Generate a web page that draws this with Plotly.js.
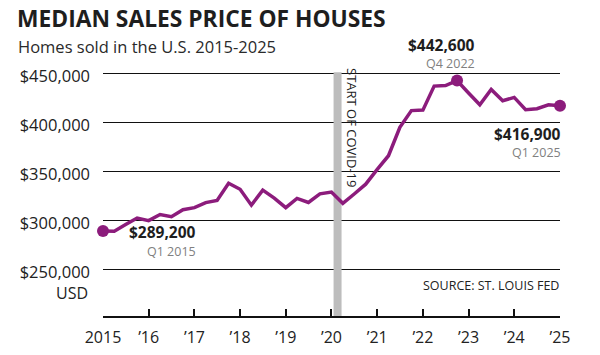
<!DOCTYPE html>
<html>
<head>
<meta charset="utf-8">
<script src="https://cdn.plot.ly/plotly-3.0.1.min.js"></script>
<style>
  html, body { margin: 0; padding: 0; background: #ffffff; }
  #chart { width: 600px; height: 355px; }
</style>
</head>
<body>
<div id="chart"></div>
<script>
// ---- Data ----
const quarterDates = [
  '2015-01-01','2015-04-01','2015-07-01','2015-10-01',
  '2016-01-01','2016-04-01','2016-07-01','2016-10-01',
  '2017-01-01','2017-04-01','2017-07-01','2017-10-01',
  '2018-01-01','2018-04-01','2018-07-01','2018-10-01',
  '2019-01-01','2019-04-01','2019-07-01','2019-10-01',
  '2020-01-01','2020-04-01','2020-07-01','2020-10-01',
  '2021-01-01','2021-04-01','2021-07-01','2021-10-01',
  '2022-01-01','2022-04-01','2022-07-01','2022-10-01',
  '2023-01-01','2023-04-01','2023-07-01','2023-10-01',
  '2024-01-01','2024-04-01','2024-07-01','2024-10-01',
  '2025-01-01'
];
const quarterLabels = [
  'Q1 2015','Q2 2015','Q3 2015','Q4 2015','Q1 2016','Q2 2016','Q3 2016','Q4 2016',
  'Q1 2017','Q2 2017','Q3 2017','Q4 2017','Q1 2018','Q2 2018','Q3 2018','Q4 2018',
  'Q1 2019','Q2 2019','Q3 2019','Q4 2019','Q1 2020','Q2 2020','Q3 2020','Q4 2020',
  'Q1 2021','Q2 2021','Q3 2021','Q4 2021','Q1 2022','Q2 2022','Q3 2022','Q4 2022',
  'Q1 2023','Q2 2023','Q3 2023','Q4 2023','Q1 2024','Q2 2024','Q3 2024','Q4 2024',
  'Q1 2025'
];
const medianPrice = [
  289200, 289100, 295800, 302500,
  299800, 306000, 303800, 310900,
  313100, 318200, 320500, 337900,
  331800, 315600, 330900, 322800,
  313000, 322500, 318400, 327100,
  329000, 317500, 327000, 337000,
  352000, 366000, 395000, 412000,
  412500, 437000, 437500, 442600,
  430000, 418000, 433500, 422000,
  425500, 413000, 414000, 418000,
  416900
];
const highlightIdx = [0, 31, 40];

const xTickVals = ['2015-01-01','2016-01-01','2017-01-01','2018-01-01','2019-01-01','2020-01-01',
                   '2021-01-01','2022-01-01','2023-01-01','2024-01-01','2025-01-01'];
const xTickText = ['2015','\u201916','\u201917','\u201918','\u201919','\u201920',
                   '\u201921','\u201922','\u201923','\u201924','\u201925'];
const yTickVals = [250000, 300000, 350000, 400000, 450000];
const yTickText = ['$250,000','$300,000','$350,000','$400,000','$450,000'];

const covidStart = '2020-01-18';
const covidEnd = '2020-03-22';
const covidLabel = 'START OF COVID-19';

const titleText = 'MEDIAN SALES PRICE OF HOUSES';
const subtitleText = 'Homes sold in the U.S. 2015-2025';
const sourceText = 'SOURCE: ST. LOUIS FED';
const unitText = 'USD';

// ---- Styling ----
const PURPLE = '#8c1c7c';
const FONT = '"Open Sans", "Noto Sans", sans-serif';
const fmt = v => '$' + v.toLocaleString('en-US');

const traces = [
  {
    x: quarterDates, y: medianPrice, type: 'scatter', mode: 'lines',
    line: { color: PURPLE, width: 3.5 }, cliponaxis: false, hoverinfo: 'skip'
  },
  {
    x: highlightIdx.map(i => quarterDates[i]),
    y: highlightIdx.map(i => medianPrice[i]),
    type: 'scatter', mode: 'markers',
    marker: { color: PURPLE, size: 12 }, cliponaxis: false, hoverinfo: 'skip'
  }
];

// label offsets (pixels) for each highlighted point: [xshift, value yshift, quarter yshift]
const labelOffsets = [[94, -1, -20], [19, 36, 17], [2, -28, -47]];
const annotations = [];
highlightIdx.forEach((idx, k) => {
  const off = labelOffsets[k];
  annotations.push({
    x: quarterDates[idx], y: medianPrice[idx], xref: 'x', yref: 'y',
    text: '<b>' + fmt(medianPrice[idx]) + '</b>', showarrow: false,
    xanchor: 'right', yanchor: 'middle', xshift: off[0], yshift: off[1], borderpad: 0,
    font: { family: FONT, size: 15.5, color: '#1e1e1e' }
  });
  annotations.push({
    x: quarterDates[idx], y: medianPrice[idx], xref: 'x', yref: 'y',
    text: quarterLabels[idx], showarrow: false,
    xanchor: 'right', yanchor: 'middle', xshift: off[0], yshift: off[2], borderpad: 0,
    font: { family: FONT, size: 12.5, color: '#808080' }
  });
});
annotations.push({
  x: 1.002, y: 0.126, xref: 'paper', yref: 'paper', text: sourceText, showarrow: false,
  xanchor: 'right', yanchor: 'middle', font: { family: FONT, size: 12.5, color: '#222' }
});
annotations.push({
  x: -0.029, y: 0.094, xref: 'paper', yref: 'paper', text: unitText, showarrow: false,
  xanchor: 'right', yanchor: 'middle', font: { family: FONT, size: 16, color: '#222' }
});
annotations.push({
  x: 0.545, y: 1.018, xref: 'paper', yref: 'paper', text: covidLabel, showarrow: false,
  textangle: 90, xanchor: 'center', yanchor: 'top',
  font: { family: FONT, size: 13, color: '#222' }
});
annotations.push({
  x: -0.19, y: 1.094, xref: 'paper', yref: 'paper', text: subtitleText, showarrow: false,
  xanchor: 'left', yanchor: 'middle', font: { family: FONT, size: 16.5, color: '#2a2a2a' }
});

const layout = {
  width: 600, height: 355,
  margin: { l: 103, r: 40, t: 70, b: 39, pad: 0 },
  paper_bgcolor: '#ffffff', plot_bgcolor: '#ffffff',
  showlegend: false,
  title: {
    text: '<b>' + titleText + '</b>',
    x: 17 / 600, xanchor: 'left', xref: 'container',
    y: 1 - 19 / 355, yanchor: 'middle', yref: 'container',
    font: { family: FONT, size: 22.8, color: '#1e1e1e' }
  },
  xaxis: {
    type: 'date', range: ['2015-01-01', '2025-01-01'],
    tickvals: xTickVals, ticktext: xTickText,
    showgrid: false, zeroline: false,
    showline: true, linecolor: '#111', linewidth: 2,
    ticks: 'inside', ticklen: 7, tickwidth: 2, tickcolor: '#111',
    ticklabelstandoff: 6,
    tickfont: { family: FONT, size: 16, color: '#222' }
  },
  yaxis: {
    range: [202600, 453400],
    tickvals: yTickVals, ticktext: yTickText,
    showgrid: true, gridcolor: '#111', gridwidth: 1,
    zeroline: false, showline: false, ticks: '',
    ticklabelstandoff: 12, ticklabelshift: 3,
    tickfont: { family: FONT, size: 16.5, color: '#222' }
  },
  shapes: [
    {
      type: 'rect', xref: 'x', yref: 'y',
      x0: covidStart, x1: covidEnd, y0: 202600, y1: 451000,
      fillcolor: '#bdbdbd', line: { width: 0 }, layer: 'between'
    }
  ],
  annotations: annotations
};

Plotly.newPlot('chart', traces, layout, { displayModeBar: false, staticPlot: true });
</script>
</body>
</html>
